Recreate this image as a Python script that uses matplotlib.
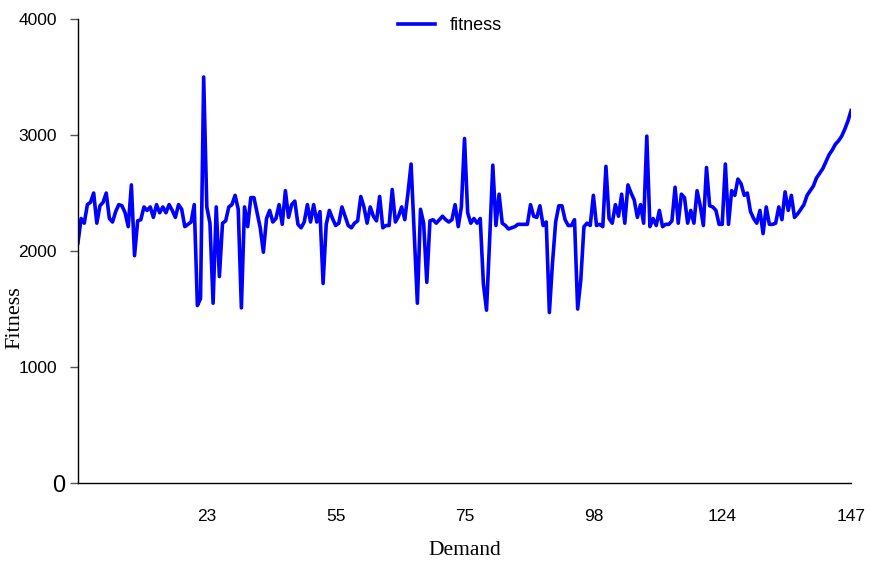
import matplotlib
matplotlib.use("Agg")
import matplotlib.pyplot as plt
import matplotlib.transforms as mtransforms
import numpy as np

# fitness value per demand sample
fitness = [
    2070, 2280, 2240, 2400, 2420, 2500, 2240, 2390, 2420, 2500,
    2280, 2250, 2340, 2400, 2390, 2330, 2210, 2570, 1960, 2260,
    2270, 2380, 2350, 2380, 2290, 2400, 2330, 2380, 2330, 2400,
    2350, 2290, 2400, 2360, 2210, 2230, 2250, 2400,
    1530, 1590, 3500, 2380, 2240, 1550, 2380, 1780, 2240, 2260,
    2380, 2400, 2480, 2360, 1510, 2380, 2210, 2460, 2460, 2330,
    2200, 1990, 2280, 2350, 2250, 2280, 2400, 2230, 2520, 2290,
    2400, 2430, 2230, 2200, 2250, 2400, 2250, 2400, 2250, 2340,
    1720, 2230, 2350, 2280, 2220, 2240, 2380, 2300, 2220, 2200,
    2240, 2260, 2470, 2380, 2240, 2380, 2300, 2260, 2470, 2200,
    2220, 2220, 2530, 2250, 2300, 2380, 2270, 2500, 2750, 2150,
    1550, 2360, 2240, 1730, 2260, 2270, 2240, 2270, 2300, 2270,
    2250, 2270, 2400, 2210, 2380, 2970, 2330, 2240, 2280, 2240,
    2280, 1720, 1490, 2100, 2740, 2220, 2490, 2240, 2220, 2190,
    2200, 2210, 2230, 2230, 2230, 2230, 2400, 2300, 2290, 2390,
    2220, 2250, 1470, 1900, 2250, 2390, 2390, 2270, 2220, 2220,
    2270, 1500, 1750, 2210, 2240, 2220, 2480, 2220, 2230, 2210,
    2730, 2280, 2240, 2400, 2300, 2490, 2240, 2570, 2500, 2440,
    2290, 2400, 2240, 2990, 2210, 2280, 2220, 2350, 2210, 2230,
    2230, 2260, 2550, 2240, 2490, 2460, 2240, 2350, 2240, 2520,
    2390, 2220, 2720, 2390, 2380, 2350, 2230, 2230, 2750, 2230,
    2520, 2480, 2620, 2580, 2480, 2500, 2340, 2280, 2240, 2350,
    2150, 2380, 2230, 2230, 2240, 2380, 2270, 2510, 2350, 2480,
    2290, 2320, 2360, 2400, 2480, 2520, 2560, 2630, 2670, 2710,
    2770, 2830, 2870, 2920, 2950, 2990, 3050, 3120, 3210,
]
demand_labels = ["23", "55", "75", "98", "124", "147"]
y_ticks = [0, 1000, 2000, 3000, 4000]

n = len(fitness)
x = np.arange(n)

fig = plt.figure(figsize=(8.72, 5.66), dpi=100)
ax = fig.add_axes([0.0894, 0.1466, 0.976 - 0.0894, 0.9664 - 0.1466])

ax.plot(x, fitness, color="#0000ff", lw=2.6, label="fitness",
        solid_joinstyle="round")

ax.set_xlim(0, n - 1)
ax.set_ylim(0, 4000)

ax.set_xticks([(n - 1) * k / 6 for k in range(1, 7)])
ax.set_xticklabels(demand_labels, family="Liberation Sans", fontsize=12.5)
ax.tick_params(axis="x", length=0, pad=19)

ax.set_yticks(y_ticks)
ax.set_yticklabels([str(v) for v in y_ticks], family="Liberation Sans",
                   fontsize=12.5)
ax.tick_params(axis="y", length=6, width=1, color="#555555", pad=9)
# the zero label is bigger in the original
zero = ax.get_yticklabels()[0]
zero.set_fontsize(17)
zero.set_transform(zero.get_transform() +
                   mtransforms.ScaledTranslation(6 / 72, 0, fig.dpi_scale_trans))

for s in ["top", "right"]:
    ax.spines[s].set_visible(False)
ax.spines["left"].set_linewidth(1)
ax.spines["bottom"].set_linewidth(1)

ax.set_xlabel("Demand", family="Liberation Serif", fontsize=15.5)
ax.xaxis.set_label_coords(0.5, -0.125)
ax.set_ylabel("Fitness", family="Liberation Serif", fontsize=16)
ax.yaxis.set_label_coords(-0.069, 0.356)

ax.legend(loc="center", bbox_to_anchor=(0.481, 0.985), frameon=False,
          prop={"family": "Liberation Sans", "size": 13},
          handlelength=2.05, handletextpad=0.8)

fig.savefig("out.png", dpi=100)
